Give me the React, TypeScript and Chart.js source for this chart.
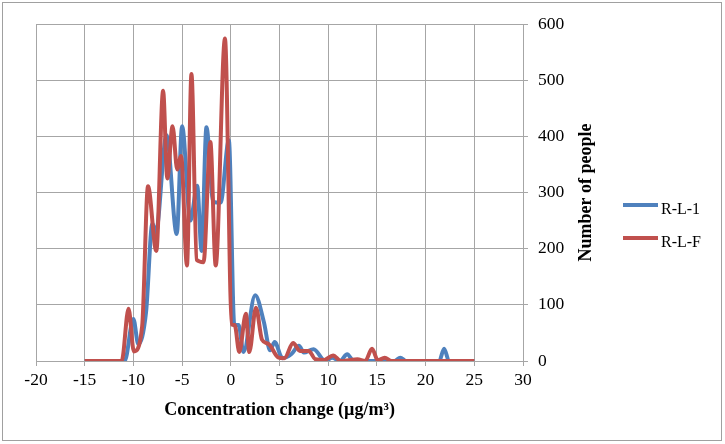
import React, { useEffect, useRef } from "react";
import { Chart, registerables } from "chart.js";

Chart.register(...registerables);

// ---- data ----
const seriesNames = ["R-L-1", "R-L-F"];
const seriesColors = ["#4F81BD", "#C0504D"];

const rl1X = [-15, -10.9, -10.0, -9.5, -8.7, -8.05, -7.7, -6.6, -5.55, -5.0, -4.15, -3.45, -3.0, -2.5, -1.8, -1.05, -0.2, 0.36, 0.8, 1.3, 2.5, 3.4, 4.04, 4.5, 5.3, 6.2, 7.0, 7.5, 8.5, 9.7, 10.4, 11.2, 11.95, 12.6, 16.8, 17.4, 18.0, 21.4, 21.9, 22.4, 25];
const rl1Y = [0, 0, 75, 30, 87, 245, 228, 402, 226, 418, 250, 312, 196, 416, 283, 282, 393, 64, 64, 16, 117, 69, 19, 34, 5, 12, 27, 15, 21, 0, 6, 0, 12, 0, 0, 6, 0, 0, 22, 0, 0];

const rlfX = [-15, -11.2, -10.5, -9.95, -9.1, -8.5, -7.65, -6.95, -6.52, -5.98, -5.5, -5.1, -4.5, -4.04, -3.5, -2.8, -2.1, -1.55, -0.6, 0.1, 0.4, 0.87, 1.55, 1.9, 2.58, 3.2, 3.9, 4.9, 5.5, 6.4, 7.1, 8.0, 8.7, 9.6, 10.5, 11.3, 12.3, 13.0, 13.8, 14.5, 15.1, 15.8, 16.5, 25];
const rlfY = [0, 0, 93, 17, 62, 311, 196, 481, 325, 418, 341, 365, 170, 511, 180, 176, 390, 170, 574, 65, 64, 16, 84, 16, 95, 38, 30, 6, 5, 32, 18, 18, 3, 2, 10, 0, 2, 3, 0, 22, 1, 6, 0, 0];

const xMin = -20;
const xMax = 30;
const xStep = 5;
const yMin = 0;
const yMax = 600;
const yStep = 100;

const xTitle = "Concentration change (µg/m³)";
const yTitle = "Number of people";

// ---- style ----
const GRID = "#a6a6a6";
const TEXT = "#000000";
const SERIF = '"Liberation Serif", "DejaVu Serif", serif';

const textPlugin = {
  id: "customText",
  afterDraw(chart: any) {
    const { ctx, chartArea } = chart;
    ctx.save();
    ctx.fillStyle = TEXT;
    ctx.font = `bold 18px ${SERIF}`;
    ctx.textAlign = "center";
    ctx.textBaseline = "alphabetic";
    ctx.fillText(xTitle, (chartArea.left + chartArea.right) / 2, chartArea.bottom + 53.5);
    ctx.save();
    ctx.translate(chartArea.right + 68, (chartArea.top + chartArea.bottom) / 2);
    ctx.rotate(-Math.PI / 2);
    ctx.fillText(yTitle, 0, 0);
    ctx.restore();

    // legend
    ctx.font = `16px ${SERIF}`;
    ctx.textAlign = "left";
    chart.data.datasets.forEach((ds: any, i: number) => {
      const ly = chartArea.top + 181 + i * 33;
      ctx.strokeStyle = ds.borderColor;
      ctx.lineWidth = 4;
      ctx.lineCap = "butt";
      ctx.beginPath();
      ctx.moveTo(chartArea.right + 100, ly);
      ctx.lineTo(chartArea.right + 135, ly);
      ctx.stroke();
      ctx.fillStyle = TEXT;
      ctx.fillText(ds.label, chartArea.right + 138, ly + 9);
    });
    ctx.restore();
  },
};

function toPoints(xs: number[], ys: number[]) {
  return xs.map((x, i) => ({ x, y: ys[i] }));
}

export default function App() {
  const canvasRef = useRef<HTMLCanvasElement | null>(null);

  useEffect(() => {
    if (!canvasRef.current) return;
    const chart = new Chart(canvasRef.current, {
      type: "scatter",
      data: {
        datasets: [
          {
            label: seriesNames[0],
            data: toPoints(rl1X, rl1Y),
            borderColor: seriesColors[0],
            backgroundColor: seriesColors[0],
            showLine: true,
            borderWidth: 4,
            pointRadius: 0,
            cubicInterpolationMode: "monotone",
            order: 1,
          },
          {
            label: seriesNames[1],
            data: toPoints(rlfX, rlfY),
            borderColor: seriesColors[1],
            backgroundColor: seriesColors[1],
            showLine: true,
            borderWidth: 4,
            pointRadius: 0,
            cubicInterpolationMode: "monotone",
            order: 0,
          },
        ],
      },
      options: {
        animation: false,
        responsive: false,
        maintainAspectRatio: false,
        devicePixelRatio: 1,
        layout: { padding: { left: 36, top: 24, right: 0, bottom: 0 } },
        plugins: {
          legend: { display: false },
          tooltip: { enabled: false },
        },
        scales: {
          x: {
            type: "linear",
            position: "bottom",
            min: xMin,
            max: xMax,
            ticks: {
              stepSize: xStep,
              color: TEXT,
              font: { family: SERIF, size: 17.5 },
              padding: 4,
              maxRotation: 0,
            },
            grid: { color: GRID, lineWidth: 1, tickLength: 5, drawTicks: true },
            border: { color: GRID, width: 1 },
            afterFit: (s: any) => {
              s.height = 83;
            },
          },
          y: {
            type: "linear",
            position: "right",
            min: yMin,
            max: yMax,
            ticks: {
              stepSize: yStep,
              color: TEXT,
              font: { family: SERIF, size: 17.5 },
              padding: 10,
            },
            grid: { color: GRID, lineWidth: 1, tickLength: 5, drawTicks: true },
            border: { color: GRID, width: 1 },
            afterFit: (s: any) => {
              s.width = 202;
            },
          },
        },
      },
      plugins: [textPlugin],
    });
    return () => chart.destroy();
  }, []);

  return (
    <div style={{ position: "fixed", left: 0, top: 0, width: 725, height: 444, background: "#ffffff" }}>
      <div
        style={{
          position: "absolute",
          left: 2,
          top: 2,
          width: 720,
          height: 439,
          boxSizing: "border-box",
          border: "1px solid #a0a0a0",
        }}
      />
      <canvas
        ref={canvasRef}
        width={725}
        height={444}
        style={{ position: "absolute", left: 0, top: 0, width: 725, height: 444 }}
      />
    </div>
  );
}
